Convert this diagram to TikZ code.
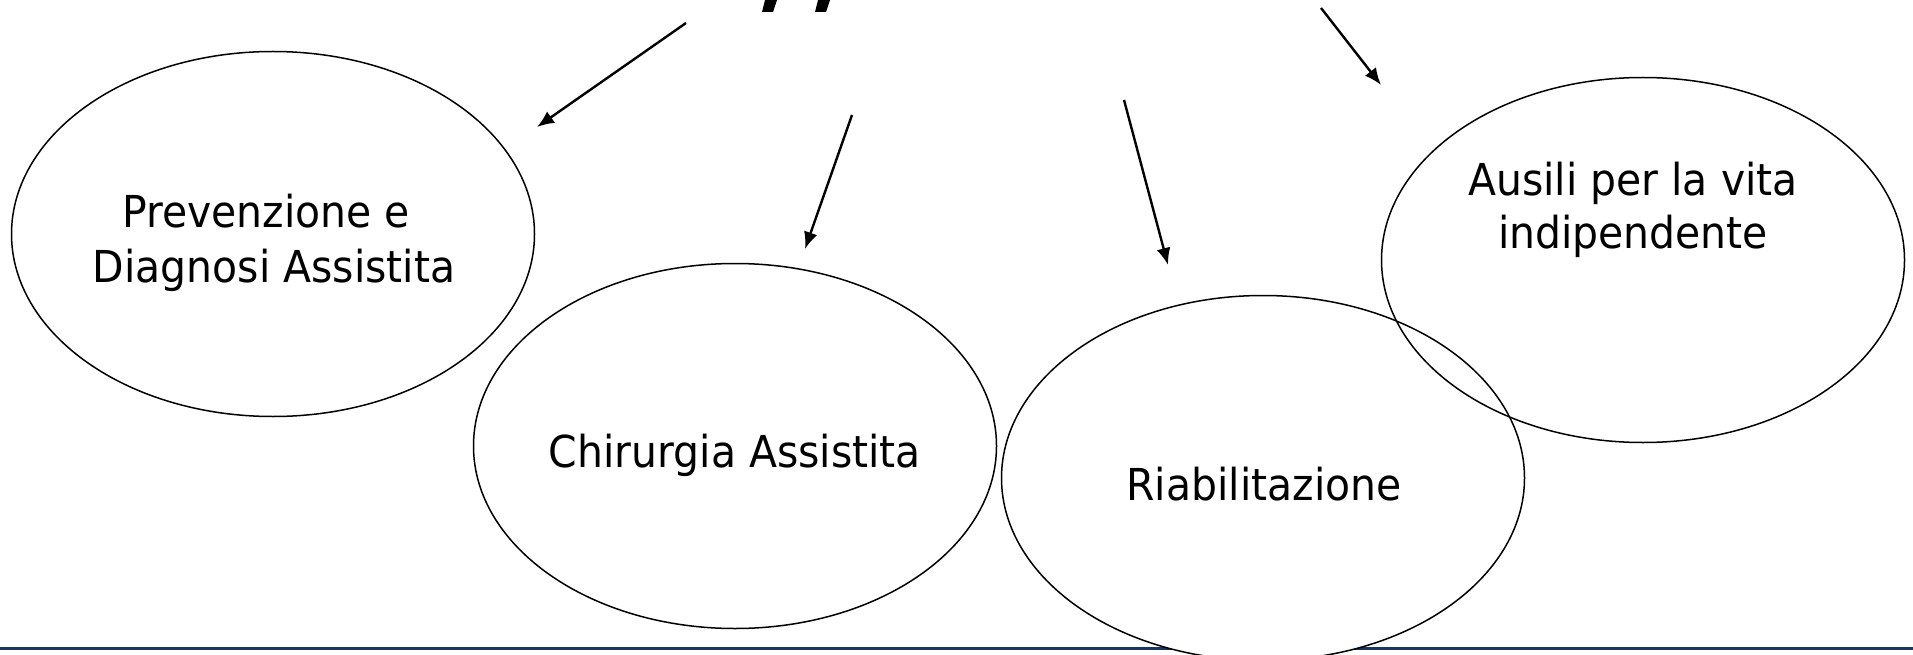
\documentclass[tikz,border=0pt]{standalone}
\usepackage{fontspec}
\setmainfont{DejaVu Sans}[FakeStretch=0.93]
\usetikzlibrary{shapes.geometric,arrows.meta}
\definecolor{navy}{HTML}{1B365D}
\tikzset{
  oval/.style={ellipse, draw=black, line width=1.5pt, minimum width=523pt, minimum height=365pt, inner sep=0pt},
  lbl/.style={inner sep=0pt, anchor=base, font=\fontsize{44}{48}\selectfont},
  conn/.style={line width=2.4pt, -{Latex[length=17pt,width=14pt]}},
  frag/.style={fill=black, draw=none}
}
\begin{document}
\begin{tikzpicture}[x=1pt,y=-1pt]
\useasboundingbox (0,0) rectangle (1913,655);
% ellipses
\node[oval] (prev) at (273,234) {};
\node[oval] (chir) at (735,446) {};
% bottom rule
\coordinate (ruleL) at (0,648.5);
\coordinate (ruleR) at (1913,648.5);
\draw[navy, line width=3pt] (ruleL) -- (ruleR);
\node[oval, fill=white] (riab) at (1263,478) {};
\node[oval] (ausi) at (1643,260) {};
% labels
\node[lbl] (prevA) at (266,227) {Prevenzione e};
\node[lbl] (prevB) at (274,282) {Diagnosi Assistita};
\node[lbl] (chirA) at (735,467) {Chirurgia Assistita};
\node[lbl] (riabA) at (1264,500) {Riabilitazione};
\node[lbl] (ausiA) at (1633,196) {Ausili per la vita};
\node[lbl] (ausiB) at (1633,248) {indipendente};
% arrows
\coordinate (s1) at (686,23);  \coordinate (e1) at (537,127);
\coordinate (s2) at (852,115); \coordinate (e2) at (805,249);
\coordinate (s3) at (1124,100); \coordinate (e3) at (1168,265);
\coordinate (s4) at (1321,8);  \coordinate (e4) at (1381,85);
\draw[conn] (s1) -- (e1);
\draw[conn] (s2) -- (e2);
\draw[conn] (s3) -- (e3);
\draw[conn] (s4) -- (e4);
% cut-off glyph fragments at top
\fill[frag] (762,12) -- (765,0) -- (777,0) -- (773,12) -- cycle;
\fill[frag] (815,12) -- (818,0) -- (830,0) -- (826,12) -- cycle;
\end{tikzpicture}
\end{document}
